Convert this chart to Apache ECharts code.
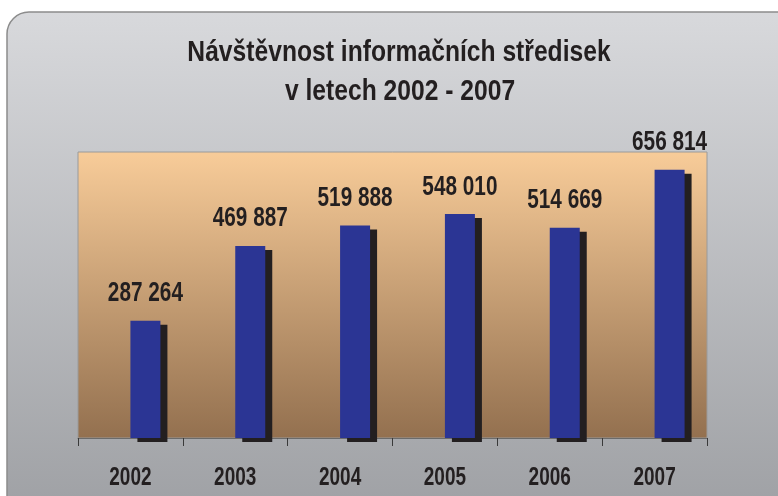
<!DOCTYPE html>
<html>
<head>
<meta charset="utf-8">
<script src="https://cdn.jsdelivr.net/npm/echarts@6/dist/echarts.min.js"></script>
<style>
  html, body { margin: 0; padding: 0; background: #fff; }
  #main { width: 778px; height: 496px; }
</style>
</head>
<body>
<div id="main"></div>
<script>
// data
const years = ['2002', '2003', '2004', '2005', '2006', '2007'];
const visitors = [287264, 469887, 519888, 548010, 514669, 656814];
const titleLines = ['Návštěvnost informačních středisek', 'v letech 2002 - 2007'];

const font = '"Liberation Sans", Arial, sans-serif';
const ink = '#231f20';

// 287264 -> "287 264"
function fmtNum(v) {
  return String(v).replace(/\B(?=(\d{3})+(?!\d))/g, ' ');
}

// narrow bold text (there is no condensed Arial here, so squeeze it)
function narrowText(x, y, text, size, sx) {
  return {
    type: 'text',
    x: x,
    y: y,
    scaleX: sx,
    style: {
      text: text,
      fontFamily: font,
      fontWeight: 'bold',
      fontSize: size,
      fill: ink,
      textAlign: 'center',
      textVerticalAlign: 'middle'
    }
  };
}

const chart = echarts.init(document.getElementById('main'));

const points = years.map((y, i) => [i, visitors[i]]);

chart.setOption({
  animation: false,
  backgroundColor: '#ffffff',
  graphic: [
    {
      type: 'rect',
      z: -10,
      shape: { x: 7, y: 12, width: 820, height: 540, r: 22 },
      style: {
        fill: new echarts.graphic.LinearGradient(0, 0, 0, 1, [
          { offset: 0, color: '#d8d9dc' },
          { offset: 1, color: '#9a9ca0' }
        ]),
        stroke: '#8c8c8c',
        lineWidth: 1.5
      }
    },
    narrowText(399, 53, titleLines[0], 29, 0.85),
    narrowText(400, 92, titleLines[1], 29, 0.85)
  ],
  grid: {
    left: 78,
    right: 71,
    top: 152,
    bottom: 58,
    show: true,
    borderColor: '#9a9a9a',
    borderWidth: 1,
    backgroundColor: new echarts.graphic.LinearGradient(0, 0, 0, 1, [
      { offset: 0, color: '#f8cc99' },
      { offset: 1, color: '#93704f' }
    ])
  },
  xAxis: {
    type: 'category',
    data: years,
    axisLine: { lineStyle: { color: '#6b6b6b', width: 1 } },
    axisTick: { show: true, length: 8, lineStyle: { color: '#3a3a3a' } },
    axisLabel: { show: false }
  },
  yAxis: {
    type: 'value',
    min: 0,
    max: 700000,
    show: false,
    splitLine: { show: false }
  },
  series: [
    {
      // empty slot so the real bar sits right of the category centre
      type: 'bar',
      data: visitors,
      barWidth: 30,
      barGap: 0,
      itemStyle: { color: 'rgba(0,0,0,0)' },
      silent: true
    },
    {
      type: 'bar',
      data: visitors,
      barWidth: 30,
      barGap: 0,
      itemStyle: {
        color: '#2b3594',
        shadowColor: ink,
        shadowBlur: 0,
        shadowOffsetX: 7,
        shadowOffsetY: 4
      }
    },
    {
      // value labels above the bars
      type: 'custom',
      data: points,
      encode: { x: 0, y: 1 },
      z: 5,
      renderItem: function (params, api) {
        const p = api.coord([api.value(0), api.value(1)]);
        return narrowText(p[0] + 15, p[1] - 27, fmtNum(api.value(1)), 27, 0.77);
      }
    },
    {
      // year labels under the axis
      type: 'custom',
      data: points,
      encode: { x: 0, y: 1 },
      z: 5,
      renderItem: function (params, api) {
        const p = api.coord([api.value(0), 0]);
        return narrowText(p[0], p[1] + 40, years[api.value(0)], 25, 0.76);
      }
    }
  ]
});
</script>
</body>
</html>
